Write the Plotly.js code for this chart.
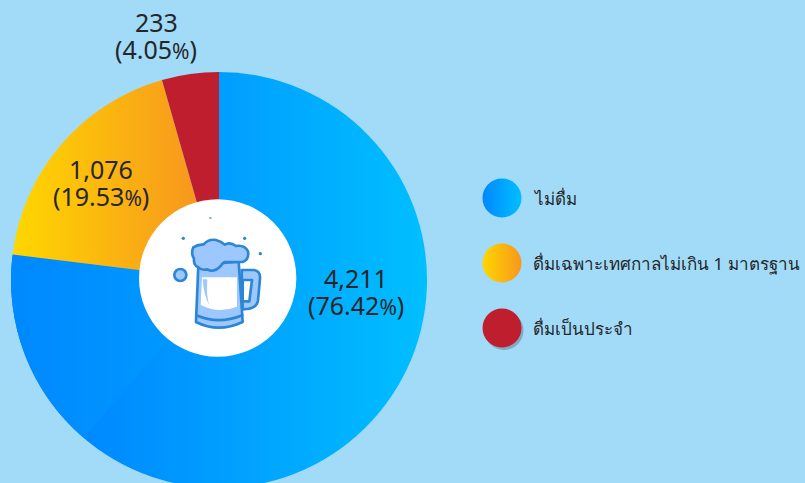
<!DOCTYPE html>
<html>
<head>
<meta charset="utf-8">
<script src="https://cdn.plot.ly/plotly-3.0.1.min.js"></script>
<style>html,body{margin:0;padding:0;width:805px;height:483px;overflow:hidden;background:#a1dbf8}</style>
</head>
<body>
<div id="chart"></div>
<script>
// ---- data ----
const categories = ['ไม่ดื่ม', 'ดื่มเฉพาะเทศกาลไม่เกิน 1 มาตรฐาน', 'ดื่มเป็นประจำ'];
const counts = [4211, 1076, 233];
const percents = ['76.42', '19.53', '4.05'];
const sliceShares = [76.9, 18.68, 4.42];
// seam inside the blue wedge of the reference (start angle in degrees, share of the circle)
const seamStartDeg = 220.55;
const seamShares = [15.7, 84.3];
const legendGradFrom = ['#0088ff', '#ffd700', '#be1e2d'];
const legendGradTo = ['#00bfff', '#f7971e', '#be1e2d'];

const W = 805, H = 520, CX = 219, CY = 280, R = 208;
const FG = '#25262a';

const mug = `<svg xmlns="http://www.w3.org/2000/svg" width="180" height="180" viewBox="0 0 540 540">
<circle cx="263" cy="264" r="236" fill="#fff"/>
<g stroke="#2c86d4" stroke-width="8" stroke-linejoin="round" stroke-linecap="round">
<circle cx="151" cy="255" r="18" fill="#9dc7ff"/>
<path d="M335 240 L372 240 Q392 244 390 266 L384 332 Q380 358 338 358 Z" fill="#9dc7ff"/>
<path d="M338 270 L366 270 L358 334 L338 334 Z" fill="#fff"/>
<path d="M205 225 L198 396 Q265 430 338 396 L326 215 Z" fill="#9dc7ff"/>
<path d="M199 376 Q265 405 337 376" fill="none"/>
<path d="M216 262 L321 262 L321 350 Q265 372 212 345 Z" fill="#fff" stroke="none"/>
<path d="M218 268 Q222 320 238 345 Q228 320 232 268 Z" fill="#9dc7ff" stroke="none"/>
<path d="M205 232 Q190 226 192 206 Q182 190 190 172 Q205 162 220 164 Q236 146 258 150 Q274 154 284 164 Q300 154 318 168 Q344 164 354 184 Q358 210 338 216 L284 216 Q276 220 272 228 Q250 250 232 238 Q214 242 205 232 Z" fill="#9dc7ff"/>
</g>
<g fill="#2c86d4" stroke="none">
<ellipse cx="241" cy="84" rx="4" ry="2.5"/><circle cx="160" cy="145" r="5"/>
<circle cx="344" cy="145" r="5"/><circle cx="391" cy="191" r="5"/>
</g></svg>`;

const pieDomain = {
  x: [(CX - R) / W, (CX + R) / W],
  y: [(H - CY - R) / H, (H - CY + R) / H]
};

const traces = [
  {
    type: 'pie', values: sliceShares, labels: categories, sort: false, direction: 'clockwise',
    rotation: 0, hole: 0.36, textinfo: 'none', hoverinfo: 'skip', domain: pieDomain,
    marker: {colors: ['#00a0ff', '#fbb116', '#be1e2d'], line: {width: 0}}, showlegend: false
  },
  {
    type: 'pie', values: seamShares, labels: ['seam', 'rest'], sort: false, direction: 'clockwise',
    rotation: seamStartDeg, hole: 0.36, textinfo: 'none', hoverinfo: 'skip', domain: pieDomain,
    marker: {colors: ['#0090ff', 'rgba(0,0,0,0)'], line: {width: 0}}, showlegend: false
  },
  {
    type: 'scatter', mode: 'markers', x: [502, 502, 502], y: [198, 263, 328], hoverinfo: 'skip',
    marker: {size: 39, color: legendGradFrom, line: {width: 0},
      gradient: {type: 'horizontal', color: legendGradTo}},
    showlegend: false
  }
];

const fmt = n => n.toLocaleString('en-US');
const labelPos = [[356, 278, 305], [101, 169, 196], [156, 22, 49]];
const annotations = [];
counts.forEach((c, i) => {
  const [x, y1, y2] = labelPos[i];
  const common = {xref: 'x', yref: 'y', x, showarrow: false, font: {family: 'Noto Sans', size: 25, color: FG}};
  annotations.push(Object.assign({}, common, {y: y1, text: fmt(c)}));
  annotations.push(Object.assign({}, common, {y: y2,
    text: '(' + percents[i] + '<span style="font-size:21px">%</span>)'}));
});
[198, 263, 328].forEach((y, i) => annotations.push({
  xref: 'x', yref: 'y', x: 530.5, y: y, xanchor: 'left', showarrow: false, text: categories[i],
  font: {family: 'Noto Sans, sans-serif', size: 17, color: FG}
}));

const layout = {
  width: W, height: H, margin: {l: 0, r: 0, t: 0, b: 0},
  paper_bgcolor: '#a1dbf8', plot_bgcolor: 'rgba(0,0,0,0)', showlegend: false,
  xaxis: {range: [0, W], visible: false, fixedrange: true},
  yaxis: {range: [H, 0], visible: false, fixedrange: true},
  shapes: [{type: 'circle', xref: 'x', yref: 'y', x0: 484.5, x1: 523.5, y0: 311, y1: 350,
    fillcolor: 'rgba(90,110,130,0.45)', line: {width: 0}, layer: 'below'}],
  images: [{source: 'data:image/svg+xml;charset=utf-8,' + encodeURIComponent(mug),
    xref: 'x', yref: 'y', x: 130, y: 190, sizex: 180, sizey: 180,
    xanchor: 'left', yanchor: 'top', sizing: 'stretch', layer: 'above'}],
  annotations
};

Plotly.newPlot('chart', traces, layout, {staticPlot: true, displayModeBar: false}).then(gd => {
  const svg = gd.querySelector('svg.main-svg');
  const NS = 'http://www.w3.org/2000/svg';
  const defs = svg.querySelector('defs') || svg.insertBefore(document.createElementNS(NS, 'defs'), svg.firstChild);
  const grad = (id, x1, x2, c1, c2) => {
    const g = document.createElementNS(NS, 'linearGradient');
    g.setAttribute('id', id);
    g.setAttribute('gradientUnits', 'userSpaceOnUse');
    g.setAttribute('x1', x1); g.setAttribute('x2', x2);
    g.setAttribute('y1', 0); g.setAttribute('y2', 0);
    [[0, c1], [1, c2]].forEach(([o, c]) => {
      const s = document.createElementNS(NS, 'stop');
      s.setAttribute('offset', o); s.setAttribute('stop-color', c);
      g.appendChild(s);
    });
    defs.appendChild(g);
  };
  // pie paths carry absolute page coordinates, so gradient stops are page x positions
  grad('gBlue', 85, 427, '#0088ff', '#00bfff');
  grad('gYellow', 12, 198, '#ffd700', '#f7971e');
  grad('gSeam', 10, 170, '#0088ff', '#0098ff');
  const pieLayers = Array.from(gd.querySelectorAll('.pielayer .trace'));
  const s0 = pieLayers[0].querySelectorAll('.slice path.surface');
  s0[0].style.fill = 'url(#gBlue)';
  s0[1].style.fill = 'url(#gYellow)';
  const s1 = pieLayers[1].querySelectorAll('.slice path.surface');
  s1[0].style.fill = 'url(#gSeam)';
});
</script>
</body>
</html>
